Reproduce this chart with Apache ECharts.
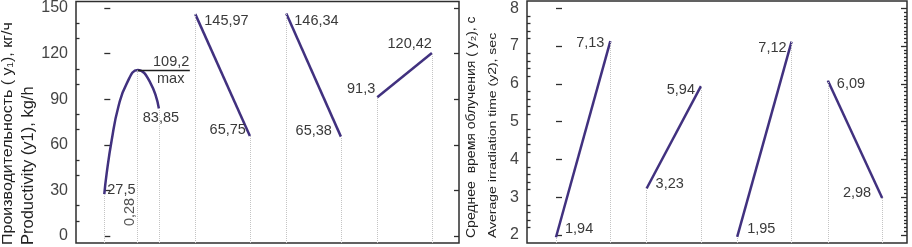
<!DOCTYPE html>
<html>
<head>
<meta charset="utf-8">
<script src="https://cdn.jsdelivr.net/npm/echarts@6/dist/echarts.min.js"></script>
<style>
html,body{margin:0;padding:0;background:#fff;}
#c{width:912px;height:247px;}
</style>
</head>
<body>
<div id="c"></div>
<script>
// ---------- data ----------
const groupStart = [0, 1, 2, 3];
const groupEnd = [0.6, 1.6, 2.6, 3.6];
// productivity y1, kg/h
const y1Start = [27.5, 145.97, 146.34, 91.3];
const y1End = [83.85, 65.75, 65.38, 120.42];
// first group is a curve with a maximum
const curveX = [0, 0.026, 0.081, 0.154, 0.246, 0.367, 0.502, 0.6];
const curveY = [27.5, 41.2, 63.0, 84.9, 100.3, 109.2, 101.3, 83.85];
const peakX = 0.367, peakY = 109.2;
const optLabel = '0,28';
const maxText = 'max';
// average irradiation time y2, sec
const y2Start = [1.94, 3.23, 1.95, 6.09];
const y2End = [7.13, 5.94, 7.12, 2.98];
// ticks
const y1Ticks = [0, 30, 60, 90, 120, 150];
const y2Ticks = [2, 3, 4, 5, 6, 7, 8];
const y1Title = ['Производительность ( y\u2081), кг/ч', 'Productivity (y1), kg/h'];
const y2Title = ['Среднее  время облучения ( y\u2082), с', 'Average irradiation time (y2), sec'];

// ---------- styles ----------
const FONT = '"Liberation Sans", Arial, sans-serif';
const LINE = '#41317f';
const TXT = '#3a3a3a';
const FRAME = '#2e2e2e';
const Y1MIN = -4.6, Y1MAX = 154.3;
const Y2MIN = 1.788, Y2MAX = 8.193;

// label placements [startLabel, endLabel] per group
const lab1 = [
  [{position:'right', distance:3, offset:[0,-4]}, {position:'bottom', distance:2, offset:[2,0]}],
  [{position:'right', distance:9, offset:[0,7]}, {position:'left', distance:4, offset:[0,-6]}],
  [{position:'right', distance:8, offset:[0,7]}, {position:'left', distance:9, offset:[0,-6]}],
  [{position:'left', distance:2, offset:[0,-8]}, {position:'left', distance:0, offset:[0,-9]}]
];
const lab2 = [
  [{position:'right', distance:9, offset:[0,-8]}, {position:'left', distance:6, offset:[0,2]}],
  [{position:'right', distance:9, offset:[0,-5]}, {position:'left', distance:6, offset:[0,4]}],
  [{position:'right', distance:10, offset:[0,-8]}, {position:'left', distance:5, offset:[0,6]}],
  [{position:'right', distance:9, offset:[0,4]}, {position:'left', distance:11, offset:[0,-5]}]
];

const fmt = v => String(v).replace('.', ',');
function lbl(v, pl) {
  return Object.assign({show:true, formatter: fmt(v), color: TXT, fontSize: 14.5, fontFamily: FONT}, pl);
}
function vline(x, y, ymin) {
  return [{coord:[x, ymin]}, {coord:[x, y]}];
}
const dotted = {color:'#c4c4c4', type:'dotted', width:1};

function minorVals(ticks, n) {
  const out = [];
  for (let i = 0; i < ticks.length - 1; i++) {
    const step = (ticks[i+1] - ticks[i]) / n;
    for (let k = 1; k < n; k++) out.push(+(ticks[i] + k*step).toFixed(4));
  }
  return out;
}

const series = [];
// curve (group 0 of y1)
series.push({
  type:'line', xAxisIndex:0, yAxisIndex:0, smooth:0.5, symbol:'circle', symbolSize:0.01,
  lineStyle:{color:LINE, width:2.5}, itemStyle:{color:LINE}, z:3,
  data: curveX.map((x, i) => {
    const d = {value:[x, curveY[i]]};
    if (i === 0) d.label = lbl(y1Start[0], lab1[0][0]);
    if (i === curveX.length - 1) d.label = lbl(y1End[0], lab1[0][1]);
    return d;
  }),
  markLine: {
    silent:true, symbol:'none', label:{show:false}, animation:false,
    data: [
      vline(groupStart[0], y1Start[0], Y1MIN),
      vline(peakX, peakY, Y1MIN),
      vline(groupEnd[0], y1End[0], Y1MIN),
      [{coord:[peakX, peakY], lineStyle:{color:'#1e1e1e', type:'solid', width:1.3, opacity:1}}, {coord:[0.94, peakY]}]
    ],
    lineStyle: dotted
  }
});
for (let g = 1; g < 4; g++) {
  series.push({
    type:'line', xAxisIndex:0, yAxisIndex:0, symbol:'circle', symbolSize:0.01,
    lineStyle:{color:LINE, width:2.5}, itemStyle:{color:LINE}, z:3,
    data: [
      {value:[groupStart[g], y1Start[g]], label: lbl(y1Start[g], lab1[g][0])},
      {value:[groupEnd[g], y1End[g]], label: lbl(y1End[g], lab1[g][1])}
    ],
    markLine: {silent:true, symbol:'none', label:{show:false}, lineStyle:dotted,
      data:[vline(groupStart[g], y1Start[g], Y1MIN), vline(groupEnd[g], y1End[g], Y1MIN)]}
  });
}
// max annotation + optimum label
const annLbl = (t, pos, dist, extra) => Object.assign({show:true, position:pos, distance:dist, formatter:t, color:TXT, fontSize:14.5, fontFamily:FONT}, extra || {});
series.push({
  type:'scatter', xAxisIndex:0, yAxisIndex:0, symbolSize:0, z:4,
  itemStyle:{opacity:1},
  data: [
    {value:[0.735, peakY], label: annLbl(fmt(peakY), 'top', 1)},
    {value:[0.73, peakY], label: annLbl(maxText, 'bottom', 1)},
    {value:[0.28, 15.8], label: annLbl(optLabel, 'inside', 0, {rotate:90, color:'#555'})}
  ]
});
for (let g = 0; g < 4; g++) {
  series.push({
    type:'line', xAxisIndex:1, yAxisIndex:3, symbol:'circle', symbolSize:0.01,
    lineStyle:{color:LINE, width:2.5}, itemStyle:{color:LINE}, z:3,
    data: [
      {value:[groupStart[g], y2Start[g]], label: lbl(y2Start[g], lab2[g][0])},
      {value:[groupEnd[g], y2End[g]], label: lbl(y2End[g], lab2[g][1])}
    ],
    markLine: {silent:true, symbol:'none', label:{show:false}, lineStyle:dotted,
      data:[vline(groupStart[g], y2Start[g], Y2MIN), vline(groupEnd[g], y2End[g], Y2MIN)]}
  });
}

function xAx(gi, min, max) {
  return {type:'value', gridIndex:gi, min:min, max:max, show:true,
    axisLine:{show:false}, axisTick:{show:false}, axisLabel:{show:false}, splitLine:{show:false}};
}
function yAx(gi, min, max, pos, ticks, len, labels) {
  return {type:'value', gridIndex:gi, min:min, max:max, position:pos, offset:0,
    axisLine:{show:false}, splitLine:{show:false},
    axisTick:{show:true, inside:true, length:len, customValues:ticks, lineStyle:{color:FRAME, width:1.3}},
    axisLabel:{show:!!labels, customValues:ticks, margin:8, color:'#444', fontSize:16, fontFamily:FONT}};
}

const titleText = (t, x, y, size, sx) => ({
  type:'text', x:x, y:y, rotation:Math.PI/2, scaleX:1, scaleY:sx,
  style:{text:t, fontSize:size, fontFamily:FONT, fill:'#222', align:'left', verticalAlign:'middle'}
});

const option = {
  animation:false,
  grid:[
    {left:76, right:453, top:1, bottom:4, show:true, borderColor:FRAME, borderWidth:1.5},
    {left:527, right:5, top:1, bottom:4, show:true, borderColor:FRAME, borderWidth:1.5}
  ],
  xAxis:[xAx(0, -0.311, 3.898), xAx(1, -0.32, 3.874)],
  yAxis:[
    yAx(0, Y1MIN, Y1MAX, 'left', y1Ticks, 6, true),
    yAx(0, Y1MIN, Y1MAX, 'left', minorVals(y1Ticks, 3), 3.5, false),
    yAx(0, Y1MIN, Y1MAX, 'right', y1Ticks, 5, false),
    yAx(1, Y2MIN, Y2MAX, 'left', y2Ticks, 6, true),
    yAx(1, Y2MIN, Y2MAX, 'left', minorVals(y2Ticks, 5), 3.5, false),
    yAx(1, Y2MIN, Y2MAX, 'right', y2Ticks, 6, false),
    yAx(1, Y2MIN, Y2MAX, 'right', minorVals(y2Ticks, 10), 3, false)
  ],
  graphic:[
    titleText(y1Title[0], 8.5, 245, 16, 0.89),
    titleText(y1Title[1], 28, 245, 16.5, 1.03),
    titleText(y2Title[0], 472, 238, 14, 0.88),
    titleText(y2Title[1], 493, 238, 14, 0.82)
  ],
  series: series
};
const chart = echarts.init(document.getElementById('c'), null, {renderer:'canvas'});
chart.setOption(option);
</script>
</body>
</html>
